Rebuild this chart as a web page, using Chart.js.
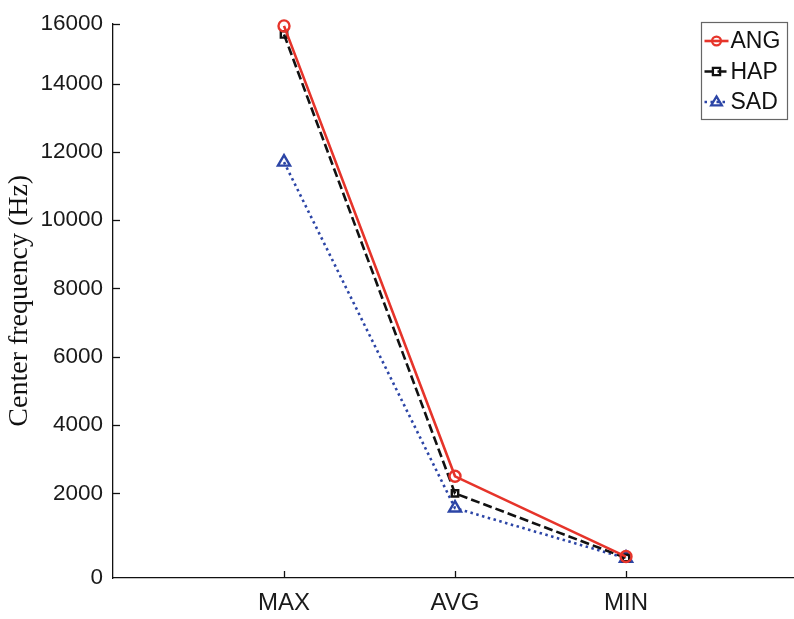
<!DOCTYPE html>
<html><head><meta charset="utf-8">
<script src="https://cdn.jsdelivr.net/npm/chart.js@4.4.0/dist/chart.umd.min.js"></script>
<style>html,body{margin:0;padding:0;background:#fff;overflow:hidden}#wrap{width:794px;height:619px;position:relative;overflow:hidden}canvas{position:absolute;left:0;top:0}</style>
</head><body><div id="wrap"><canvas id="c" width="803" height="619"></canvas></div>
<script>
const categories = ['MAX', 'AVG', 'MIN'];
const seriesNames = ['ANG', 'HAP', 'SAD'];
const angValues = [15690, 2500, 150];
const hapValues = [15440, 2000, 110];
const sadValues = [11700, 1570, 100];
const yTickValues = [0, 2000, 4000, 6000, 8000, 10000, 12000, 14000, 16000];
const yTickLabels = ['0', '2000', '4000', '6000', '8000', '10000', '12000', '14000', '16000'];

const Y_MIN = -478, Y_MAX = 15760;
const FONT = "'Liberation Sans', Arial, sans-serif";
const colors = ['#e6342a', '#111111', '#2c45a6'];
const dashes = [[], [9, 4], [2.5, 3.5]];
const styles = ['circle', 'rect', 'triangle'];
const radii = [5.5, 4.5, 7];

function toPts(vals) { return vals.map((v, i) => ({ x: i + 1, y: v })); }
const allSeries = [angValues, hapValues, sadValues];

const datasets = allSeries.map((vals, i) => ({
  label: seriesNames[i],
  data: toPts(vals),
  borderColor: colors[i],
  backgroundColor: 'rgba(0,0,0,0)',
  borderWidth: 2.6,
  borderDash: dashes[i],
  pointStyle: styles[i],
  pointRadius: radii[i],
  pointBorderWidth: 2.4,
  pointBorderColor: colors[i],
  pointBackgroundColor: 'rgba(255,255,255,0)',
  tension: 0,
  fill: false,
  clip: false
}));

function mapYTick(v) {
  if (v === Y_MIN) return yTickLabels[0];
  if (v === Y_MAX) return yTickLabels[yTickLabels.length - 1];
  const idx = yTickValues.indexOf(v);
  return idx >= 0 ? yTickLabels[idx] : '';
}

function drawMarker(ctx, style, x, y, r, color, bw) {
  ctx.save();
  ctx.setLineDash([]);
  ctx.strokeStyle = color;
  ctx.lineWidth = bw;
  ctx.beginPath();
  if (style === 'circle') {
    ctx.arc(x, y, r, 0, Math.PI * 2);
  } else if (style === 'rect') {
    ctx.rect(x - r, y - r, 2 * r, 2 * r);
  } else {
    ctx.moveTo(x, y - r);
    ctx.lineTo(x + r * 0.95, y + r * 0.6);
    ctx.lineTo(x - r * 0.95, y + r * 0.6);
    ctx.closePath();
  }
  ctx.stroke();
  ctx.restore();
}

const extras = {
  id: 'extras',
  afterDraw(chart) {
    const ctx = chart.ctx;
    const xs = chart.scales.x, ys = chart.scales.y;
    const a = chart.chartArea;
    ctx.save();
    ctx.strokeStyle = '#111';
    ctx.lineWidth = 1.3;
    ctx.setLineDash([]);
    ys.ticks.forEach(t => {
      if (t.value === Y_MIN) return;
      const py = Math.round(ys.getPixelForValue(t.value)) + 0.5;
      ctx.beginPath(); ctx.moveTo(a.left, py); ctx.lineTo(a.left + 7, py); ctx.stroke();
    });
    xs.ticks.forEach(t => {
      const px = Math.round(xs.getPixelForValue(t.value)) + 0.5;
      ctx.beginPath(); ctx.moveTo(px, a.bottom); ctx.lineTo(px, a.bottom - 7); ctx.stroke();
    });
    const bx = 701.5, by = 22.5, bw = 86, bh = 97;
    ctx.fillStyle = '#fff';
    ctx.fillRect(bx, by, bw, bh);
    ctx.strokeStyle = '#666';
    ctx.lineWidth = 1.2;
    ctx.strokeRect(bx, by, bw, bh);
    chart.data.datasets.forEach((ds, i) => {
      const yy = by + 18.5 + i * 30.5;
      ctx.save();
      ctx.strokeStyle = ds.borderColor;
      ctx.lineWidth = 2.6;
      ctx.setLineDash(ds.borderDash);
      ctx.beginPath(); ctx.moveTo(bx + 3, yy); ctx.lineTo(bx + 27, yy); ctx.stroke();
      ctx.restore();
      drawMarker(ctx, ds.pointStyle, bx + 15, yy, ds.pointRadius * 0.8, ds.borderColor, 2.3);
      ctx.fillStyle = '#111';
      ctx.font = '23px ' + FONT;
      ctx.textBaseline = 'middle';
      ctx.textAlign = 'left';
      ctx.fillText(ds.label, bx + 29, yy + 1);
    });
    ctx.restore();
  }
};

new Chart(document.getElementById('c'), {
  type: 'line',
  data: { datasets },
  options: {
    responsive: false,
    animation: false,
    devicePixelRatio: 1,
    layout: { padding: { top: 21, right: 0, left: 0, bottom: 0 } },
    plugins: { legend: { display: false }, tooltip: { enabled: false } },
    scales: {
      x: {
        type: 'linear',
        min: 0,
        max: 3.98,
        afterBuildTicks(s) { s.ticks = categories.map((c, i) => ({ value: i + 1 })); },
        afterFit(s) { s.height = 41; },
        grid: { display: false, drawTicks: false },
        border: { display: true, color: '#111', width: 1.3 },
        ticks: {
          padding: 11,
          color: '#1a1a1a',
          font: { family: FONT, size: 24 },
          callback: v => categories[Math.round(v) - 1] || ''
        }
      },
      y: {
        type: 'linear',
        min: Y_MIN,
        max: Y_MAX,
        afterBuildTicks(s) {
          const inner = yTickValues.slice(1, -1).map(v => ({ value: v }));
          s.ticks = [{ value: Y_MIN }].concat(inner, [{ value: Y_MAX }]);
        },
        afterFit(s) { s.width = 113; },
        grid: { display: false, drawTicks: false },
        border: { display: true, color: '#111', width: 1.3 },
        ticks: {
          padding: 10,
          color: '#1a1a1a',
          font: { family: FONT, size: 22.5 },
          callback: v => mapYTick(v)
        },
        title: {
          display: true,
          text: 'Center frequency (Hz)',
          color: '#111',
          padding: { top: 3, bottom: 0 },
          font: { family: "'Liberation Serif', 'DejaVu Serif', serif", size: 28 }
        }
      }
    }
  },
  plugins: [extras]
});
</script>
</body></html>
